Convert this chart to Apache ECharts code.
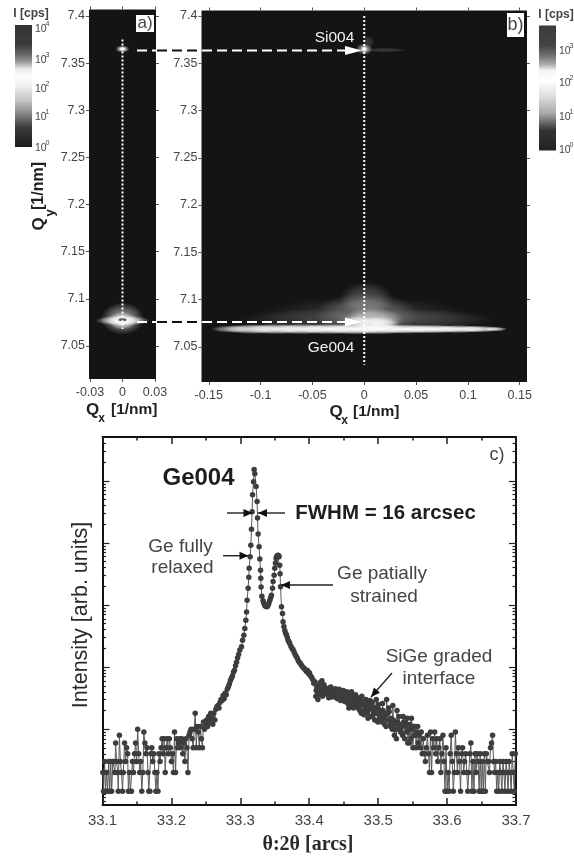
<!DOCTYPE html>
<html><head><meta charset="utf-8">
<style>html,body{margin:0;padding:0;background:#fff}#c{width:574px;height:858px}</style>
<script src="https://cdn.jsdelivr.net/npm/echarts@6/dist/echarts.min.js"></script>
</head><body><div id="c"></div>
<script>
// ---- tick values
const mapQxTicksA=[-0.03,0,0.03];
const mapQxTicksB=[-0.15,-0.1,-0.05,0,0.05,0.1,0.15];
const mapQyTicks=[7.05,7.1,7.15,7.2,7.25,7.3,7.35,7.4];
const thetaMajor=[33.1,33.2,33.3,33.4,33.5,33.6,33.7];
const thetaMinor=[33.15,33.25,33.35,33.45,33.55,33.65];
const intensityMajor=[1,10,100,1000,10000,100000];
const intensityMinor=[0.7,0.8,0.9,
 2,3,4,5,6,7,8,9,20,30,40,50,60,70,80,90,200,300,400,500,600,700,800,900,
 2000,3000,4000,5000,6000,7000,8000,9000,20000,30000,40000,50000,60000,70000,80000,90000,
 200000,300000,400000,500000];

// ---- reciprocal-space maps: [Qx, Qy, radius Qx, radius Qy, whiteness]
const mapBlobsA=[
 [0,7.365,0.0065,0.004,0.7],[0,7.365,0.0035,0.0024,1],
 [0,7.079,0.02,0.017,0.5],[0,7.077,0.025,0.0055,0.9],[0,7.077,0.013,0.0095,0.8],[0,7.0765,0.008,0.0045,0.8]];
const mapDarkSpotsA=[[0,7.0778,0.0048,0.0021,1]];
const mapBlobsB=[
 [0,7.365,0.008,0.006,0.6],[0,7.365,0.0035,0.0035,1],[0.02,7.364,0.022,0.0024,0.18],[0.004,7.373,0.006,0.006,0.16],
 [0.002,7.1,0.026,0.019,0.24],[0.002,7.085,0.05,0.022,0.28],[0.008,7.078,0.03,0.013,0.55],
 [0,7.085,0.1,0.018,0.12],[0.05,7.079,0.075,0.011,0.16],[-0.05,7.079,0.07,0.011,0.12],
 [0.012,7.075,0.022,0.007,0.9],[-0.006,7.077,0.014,0.006,0.7],
 [-0.128,7.0688,0.02,0.004,0.55],[-0.108,7.0688,0.028,0.0052,0.8],[-0.085,7.0688,0.03,0.0055,0.9],[-0.06,7.0688,0.03,0.0055,0.95],
 [-0.035,7.0688,0.03,0.0055,1],[-0.01,7.0688,0.03,0.0058,1],[0.015,7.0688,0.03,0.0056,1],[0.04,7.0688,0.03,0.005,1],
 [0.065,7.0688,0.03,0.0046,1],[0.09,7.0688,0.028,0.0042,0.95],[0.11,7.0688,0.022,0.0036,0.85],[0.126,7.0688,0.012,0.0024,0.75]];
const refLineA=[[0,7.375],[0,7.068]];
const refLineB=[[0,7.4],[0,7.031]];

// ---- theta:2theta scan [theta, intensity]
const noiseLeft=[[33.1005,2],[33.1015,1],[33.103,3],[33.1045,1],[33.106,2],[33.1075,1],[33.109,3],[33.1105,1],[33.112,3],[33.1133,1],[33.115,3],[33.1165,3],[33.118,2],[33.119,6],[33.1205,3],[33.122,2],[33.1229,1],[33.1245,8],[33.126,3],[33.1275,2],[33.129,1],[33.1302,2],[33.132,6],[33.1335,3],[33.135,5],[33.1365,4],[33.1375,1],[33.139,2],[33.1405,1],[33.142,1],[33.1435,3],[33.145,2],[33.1465,4],[33.148,6],[33.1495,3],[33.151,10],[33.1525,4],[33.154,2],[33.1555,3],[33.157,1],[33.1585,2],[33.16,9],[33.1615,6],[33.163,4],[33.1645,5],[33.166,2],[33.1672,1],[33.1688,1],[33.17,4],[33.1715,5],[33.173,3],[33.1745,4],[33.176,2],[33.1775,1],[33.179,2],[33.1805,1],[33.182,4],[33.1835,3],[33.185,5],[33.1865,7],[33.188,4],[33.1895,7],[33.191,2],[33.1925,5],[33.194,7],[33.1955,4],[33.197,7],[33.1985,5],[33.2,3],[33.2015,4],[33.203,2],[33.2045,9],[33.206,2],[33.2075,7],[33.209,5],[33.2105,6],[33.212,7],[33.2135,5],[33.215,7],[33.2165,4],[33.218,6],[33.2195,3],[33.221,7],[33.2225,5],[33.224,2]];
const riseLeft=[[33.2255,8],[33.227,9],[33.2285,10],[33.23,7],[33.2315,5],[33.233,10],[33.2345,18],[33.236,5],[33.2375,11],[33.239,9],[33.2405,5],[33.242,11],[33.2435,7],[33.245,5],[33.2465,13],[33.248,10],[33.2495,12],[33.251,14],[33.2525,11],[33.254,16],[33.2555,13],[33.257,18],[33.2585,15],[33.26,12],[33.2615,18],[33.263,14],[33.2645,21],[33.266,23],[33.2675,24],[33.269,22],[33.2705,27],[33.272,30],[33.2735,29],[33.275,35],[33.2765,31],[33.278,38],[33.2795,36],[33.281,44],[33.2825,48],[33.284,53],[33.2855,60],[33.287,66],[33.2885,72],[33.29,83],[33.2915,89],[33.293,105],[33.2945,120],[33.296,140],[33.2975,160],[33.2993,188]];
const mainPeak=[[33.3017,212],[33.3032,272],[33.3051,327],[33.3065,420],[33.308,570],[33.309,770],[33.3098,1195],[33.3113,1860],[33.3123,2800],[33.3128,3900],[33.3142,6000],[33.3152,9150],[33.3162,16700],[33.3171,32000],[33.3177,60000],[33.3191,97000],[33.32,153000],[33.321,130000],[33.3229,81000],[33.3243,46400],[33.3249,25300],[33.3258,14000],[33.3272,8700],[33.3283,5520],[33.3293,3630],[33.3297,2710],[33.3301,1960]];
const valleyPeak=[[33.3312,1390],[33.333,1170],[33.3341,1070],[33.3355,980],[33.3366,960],[33.338,940],[33.3392,950],[33.3403,994],[33.3415,1080],[33.3428,1195],[33.344,1310],[33.3452,1440],[33.3467,1860],[33.3475,2390],[33.349,3010],[33.35,3900],[33.351,4700],[33.3519,5640],[33.3526,5950],[33.3533,6160],[33.354,6280],[33.3548,6320],[33.3555,6200],[33.3562,6000],[33.3572,4360],[33.3577,3200],[33.3583,1970],[33.3597,940],[33.3612,730],[33.362,540],[33.3632,450],[33.3645,390],[33.3658,350],[33.367,330],[33.3682,300],[33.3693,272],[33.3705,255],[33.3717,240],[33.3735,215],[33.3751,200]];
const tailMid=[[33.3765,190],[33.378,175],[33.3795,160],[33.381,150],[33.3825,140],[33.384,128],[33.3855,120],[33.387,115],[33.3885,108],[33.39,102],[33.3915,98],[33.393,95],[33.3945,90],[33.396,85],[33.3975,88],[33.399,78],[33.4005,80],[33.402,72],[33.4035,68],[33.405,63],[33.4065,55],[33.408,58],[33.4095,34],[33.411,50],[33.4125,30],[33.414,47],[33.4155,56],[33.417,44],[33.4185,60],[33.42,40],[33.4215,52],[33.423,44],[33.4245,37],[33.426,42],[33.4275,36],[33.429,46],[33.4305,40],[33.432,33],[33.4335,44],[33.435,38],[33.4365,33],[33.438,45],[33.4395,36],[33.441,31],[33.4425,39],[33.444,33],[33.4455,29],[33.447,38],[33.4485,31],[33.45,35],[33.4515,28],[33.453,32],[33.4545,40],[33.456,26],[33.4575,22],[33.459,33],[33.4605,29],[33.462,24],[33.4635,35],[33.465,27],[33.4665,31],[33.468,24],[33.4695,28],[33.471,22],[33.4725,30],[33.474,26],[33.4755,18],[33.477,28],[33.4785,24],[33.48,20],[33.4815,27],[33.483,23],[33.4845,18],[33.486,26],[33.4875,21],[33.489,24],[33.4905,16],[33.492,23],[33.4935,19],[33.495,14],[33.4965,22],[33.498,18],[33.4995,13],[33.501,21],[33.5025,16],[33.504,19],[33.5055,13],[33.507,20],[33.5085,15],[33.51,17],[33.5115,11],[33.513,18],[33.5145,14],[33.516,19],[33.5175,12],[33.519,15],[33.5205,10],[33.522,14],[33.5235,8],[33.525,12],[33.5265,7],[33.528,13],[33.5295,10],[33.531,12],[33.5325,9],[33.534,11],[33.5355,8],[33.537,13],[33.5385,7],[33.54,11],[33.5415,9],[33.543,6],[33.5445,10],[33.546,12],[33.5475,7],[33.549,10],[33.5505,5],[33.552,8],[33.5535,11],[33.555,5],[33.5565,9],[33.558,6],[33.5595,8]];
const tailCloud=[[33.4101,42],[33.4132,36],[33.4162,38],[33.4192,34],[33.4223,47],[33.4253,39],[33.4283,32],[33.4313,48],[33.4343,36],[33.4373,41],[33.4403,34],[33.4433,44],[33.4463,35],[33.4493,42],[33.4523,36],[33.4553,30],[33.4583,37],[33.4613,40],[33.4643,22],[33.4673,36],[33.4703,32],[33.4733,20],[33.4763,34],[33.4793,17],[33.4823,30],[33.4853,15],[33.4883,29],[33.4913,27],[33.4943,18],[33.4973,30],[33.5003,25],[33.5033,14],[33.5063,26],[33.5093,12],[33.5123,30],[33.5153,22],[33.5183,11],[33.5213,24],[33.5243,10],[33.5273,20],[33.5303,16],[33.5333,9],[33.5363,16],[33.5393,13],[33.5423,15],[33.5453,6],[33.5483,15],[33.5513,11],[33.5543,8],[33.5573,11]];
const noiseRight=[[33.561,5],[33.5625,9],[33.564,4],[33.5655,7],[33.567,4],[33.5685,3],[33.57,5],[33.5715,8],[33.573,4],[33.5745,2],[33.576,9],[33.5775,2],[33.579,7],[33.5805,5],[33.582,9],[33.5835,4],[33.585,7],[33.5865,3],[33.588,5],[33.5895,7],[33.591,2],[33.5925,4],[33.594,8],[33.5955,3],[33.597,1],[33.5985,5],[33.6,1],[33.6015,2],[33.603,1],[33.6045,4],[33.606,8],[33.6075,3],[33.609,1],[33.6105,2],[33.612,9],[33.6135,4],[33.615,2],[33.6165,5],[33.618,3],[33.6195,1],[33.621,4],[33.6225,5],[33.624,2],[33.6255,3],[33.627,4],[33.6285,2],[33.63,1],[33.6315,2],[33.633,4],[33.6345,6],[33.636,1],[33.6375,3],[33.639,1],[33.6405,4],[33.642,2],[33.6435,4],[33.645,3],[33.6465,1],[33.648,4],[33.6495,1],[33.651,3],[33.6525,1],[33.654,4],[33.6555,1],[33.657,4],[33.6585,3],[33.66,3],[33.6615,2],[33.663,5],[33.6645,6],[33.666,8],[33.6675,3],[33.669,2],[33.6705,3],[33.672,1],[33.6735,2],[33.675,1],[33.6765,3],[33.678,2],[33.6795,1],[33.681,3],[33.6825,2],[33.684,1],[33.6855,3],[33.687,2],[33.6885,1],[33.69,3],[33.6915,2],[33.693,1],[33.6945,4],[33.696,2],[33.6975,1],[33.699,4]];
const scanPoints=[].concat(noiseLeft,riseLeft,mainPeak,valleyPeak,tailMid,tailCloud,noiseRight).sort((a,b)=>a[0]-b[0]);

// ---- colour bars: [position, grey]
const barStopsA=[[0,'#333'],[0.16,'#3c3c3c'],[0.24,'#666'],[0.3,'#999'],[0.36,'#e8e8e8'],[0.42,'#fff'],[0.5,'#eee'],[0.62,'#c4c4c4'],[0.75,'#777'],[0.84,'#3a3a3a'],[1,'#1c1c1c']];
const barStopsB=[[0,'#3a3a3a'],[0.16,'#444'],[0.25,'#777'],[0.31,'#aaa'],[0.36,'#f4f4f4'],[0.44,'#fff'],[0.56,'#e0e0e0'],[0.7,'#aaa'],[0.78,'#666'],[0.84,'#333'],[1,'#222']];

const FONT='"Liberation Sans",Arial,sans-serif';
const GREY='#444';

function blobItem(dark){
 return function(params,api){
  const c=api.coord([api.value(0),api.value(1)]);
  const s=api.size([api.value(2),api.value(3)]);
  const a=api.value(4);
  const rgb=dark?'15,15,15':'255,255,255';
  return {type:'circle',shape:{cx:0,cy:0,r:1},x:c[0],y:c[1],scaleX:s[0],scaleY:s[1],
   style:{fill:{type:'radial',x:0.5,y:0.5,r:0.5,colorStops:[
    {offset:0,color:'rgba('+rgb+','+a+')'},
    {offset:0.55,color:'rgba('+rgb+','+(a*0.7)+')'},
    {offset:1,color:'rgba('+rgb+',0)'}]}}};
 };
}
function blobSeries(data,gridAxis,dark){
 return {type:'custom',xAxisIndex:gridAxis[0],yAxisIndex:gridAxis[1],data:data,clip:true,
  encode:{x:0,y:1},renderItem:blobItem(dark),silent:true,animation:false};
}
function dotted(data,gridAxis){
 return {type:'line',xAxisIndex:gridAxis[0],yAxisIndex:gridAxis[1],data:data,symbol:'none',silent:true,
  lineStyle:{color:'#fff',width:2,type:[2,2]},animation:false};
}

function mapX(grid,pos,min,max,ticks,labels){
 return {type:'value',gridIndex:grid,position:pos,min:min,max:max,
  axisLine:{show:false,onZero:false},splitLine:{show:false},
  axisTick:{show:true,customValues:ticks,length:3,inside:false,lineStyle:{color:'#555',width:1}},
  axisLabel:labels?{show:true,customValues:ticks,color:GREY,fontFamily:FONT,fontSize:12.5,margin:7}:{show:false}};
}
function mapY(grid,pos,min,max,labels){
 return {type:'value',gridIndex:grid,position:pos,min:min,max:max,
  axisLine:{show:false,onZero:false},splitLine:{show:false},
  axisTick:{show:true,customValues:mapQyTicks,length:3,inside:false,lineStyle:{color:'#555',width:1}},
  axisLabel:labels?{show:true,customValues:mapQyTicks,color:GREY,fontFamily:FONT,fontSize:12.5,margin:4}:{show:false}};
}
function scanX(pos,ticks,len,labels,line){
 return {type:'value',gridIndex:2,position:pos,min:33.1,max:33.7,
  axisLine:{show:line,onZero:false,lineStyle:{color:'#111',width:2}},splitLine:{show:false},
  axisTick:{show:true,customValues:ticks,inside:true,length:len,lineStyle:{color:'#222',width:1.5}},
  axisLabel:labels?{show:true,customValues:ticks,color:GREY,fontFamily:FONT,fontSize:15,margin:8}:{show:false}};
}
function scanY(pos,ticks,len,line){
 return {type:'log',gridIndex:2,position:pos,min:0.6,max:510000,
  axisLine:{show:line,onZero:false,lineStyle:{color:'#111',width:2}},splitLine:{show:false},
  axisTick:{show:true,customValues:ticks,inside:true,length:len,lineStyle:{color:'#222',width:1.2}},
  axisLabel:{show:false}};
}

// annotation helpers
const gfx=[];
function T(x,y,text,size,o){
 o=o||{};
 gfx.push({type:'text',x:x,y:y,rotation:o.rot||0,z:50,silent:true,style:{text:text,fill:o.fill||GREY,
  font:(o.bold?'bold ':'')+size+'px '+(o.serif?'"Liberation Serif",serif':FONT),
  align:o.align||'center',verticalAlign:'middle'}});
}
function L(x1,y1,x2,y2,color,w,dash){
 gfx.push({type:'line',z:45,silent:true,shape:{x1,y1,x2,y2},style:{stroke:color,lineWidth:w,lineDash:dash||null}});
}
function head(x1,y1,x2,y2,color,len,hw){
 const d=Math.hypot(x2-x1,y2-y1),ux=(x2-x1)/d,uy=(y2-y1)/d;
 const bx=x2-ux*len,by=y2-uy*len;
 gfx.push({type:'polygon',z:46,silent:true,shape:{points:[[x2,y2],[bx-uy*hw,by+ux*hw],[bx+uy*hw,by-ux*hw]]},style:{fill:color}});
}
function arrow(x1,y1,x2,y2){L(x1,y1,x2,y2,'#222',1.4);head(x1,y1,x2,y2,'#111',9,4);}
function bar(x,y,w,h,stops){
 gfx.push({type:'rect',z:40,silent:true,shape:{x,y,width:w,height:h},style:{fill:{type:'linear',x:0,y:0,x2:0,y2:1,
  colorStops:stops.map(s=>({offset:s[0],color:s[1]}))}}});
}
function pow10(x,y,e){T(x,y,'10',10.5,{align:'left'});T(x+10.5,y-5,String(e),7,{align:'left'});}

bar(15,25,17,122,barStopsA);
bar(539,25.5,17,125,barStopsB);
T(31,14,'I [cps]',12,{bold:true});
T(556,15,'I [cps]',12,{bold:true});
[[29,4],[60,3],[89,2],[117,1],[148,0]].forEach(p=>pow10(35,p[0],p[1]));
[[51,3],[83,2],[117,1],[150,0]].forEach(p=>pow10(559,p[0],p[1]));

gfx.push({type:'rect',z:41,silent:true,shape:{x:136,y:15,width:18,height:17},style:{fill:'#fff'}});
gfx.push({type:'rect',z:41,silent:true,shape:{x:507,y:13,width:17,height:24},style:{fill:'#fff'}});
T(145,23.5,'a)',17);T(515.5,25,'b)',18);
T(334.5,38,'Si004',15.5,{fill:'#f2f2f2'});
T(331,348,'Ge004',15.5,{fill:'#f2f2f2'});

// reflection-to-reflection arrows
[50.5,322].forEach(y=>{
 L(137,y,156,y,'#fff',2,[10,5]);
 L(157,y,201,y,'#111',2,[10,5]);
 L(202,y,348,y,'#fff',2,[10,5]);
 head(345,y,362,y,'#fff',17,4.5);
});

// axis titles
T(92.5,410,'Q',17,{bold:true,fill:'#222'});
T(101.5,419,'x',12,{bold:true,fill:'#222'});
T(111,410,'[1/nm]',15.5,{bold:true,fill:'#222',align:'left'});
T(336,412,'Q',17,{bold:true,fill:'#222'});
T(344.5,421,'x',12,{bold:true,fill:'#222'});
T(353,412,'[1/nm]',15.5,{bold:true,fill:'#222',align:'left'});
T(39,224,'Q',17,{bold:true,fill:'#222',rot:Math.PI/2});
T(50,213,'y',13,{bold:true,fill:'#222',rot:Math.PI/2});
T(39,186,'[1/nm]',16,{bold:true,fill:'#222',rot:Math.PI/2});
T(81,615,'Intensity [arb. units]',21.5,{rot:Math.PI/2,fill:'#2a2a2a'});
T(308,845,'θ:2θ [arcs]',20,{bold:true,serif:true,fill:'#2a2a2a'});

// scan annotations
T(198.5,478,'Ge004',24,{bold:true,fill:'#1e1e1e'});
T(385.5,513,'FWHM = 16 arcsec',20.5,{bold:true,fill:'#1e1e1e'});
T(180.5,547,'Ge fully',19);T(182.5,568,'relaxed',19);
T(382,574,'Ge patially',19);T(384,597,'strained',19);
T(439,657,'SiGe graded',19);T(439,679,'interface',19);
T(497,455,'c)',18);
arrow(227,513,252.5,513);arrow(285,513,258,513);
arrow(223,555.7,248.5,555.7);arrow(333,585,281,585);
arrow(392,673,371,697);

const chart=echarts.init(document.getElementById('c'),null,{renderer:'canvas'});
chart.setOption({
 animation:false,backgroundColor:'#fff',
 grid:[
  {left:89,top:9.5,width:67,height:369.5,show:true,backgroundColor:'#141414',borderWidth:0},
  {left:201.5,top:10.5,width:325.5,height:371.5,show:true,backgroundColor:'#141414',borderWidth:0},
  {left:102.5,top:437,width:413.5,height:368,show:false}],
 xAxis:[
  mapX(0,'bottom',-0.0309,0.0309,mapQxTicksA,true),
  mapX(0,'top',-0.0309,0.0309,mapQxTicksA,false),
  mapX(1,'bottom',-0.157,0.157,mapQxTicksB,true),
  mapX(1,'top',-0.157,0.157,mapQxTicksB,false),
  scanX('bottom',thetaMajor,7,true,true),
  scanX('bottom',thetaMinor,3.5,false,false),
  scanX('top',thetaMajor,7,false,true),
  scanX('top',thetaMinor,3.5,false,false)],
 yAxis:[
  mapY(0,'left',7.015,7.4069,true),
  mapY(0,'right',7.015,7.4069,false),
  mapY(1,'left',7.0128,7.4058,true),
  mapY(1,'right',7.0128,7.4058,false),
  scanY('left',intensityMajor,7,true),
  scanY('left',intensityMinor,3.5,false),
  scanY('right',intensityMajor,7,true),
  scanY('right',intensityMinor,3.5,false)],
 series:[
  blobSeries(mapBlobsA,[0,0],false),
  blobSeries(mapDarkSpotsA,[0,0],true),
  dotted(refLineA,[0,0]),
  blobSeries(mapBlobsB,[2,2],false),
  dotted(refLineB,[2,2]),
  {type:'line',xAxisIndex:4,yAxisIndex:4,data:scanPoints,symbol:'circle',symbolSize:5.5,showSymbol:true,showAllSymbol:true,
   clip:true,silent:true,lineStyle:{color:'#5a5a5a',width:1},itemStyle:{color:'#3d3d3d'},animation:false}
 ],
 graphic:{elements:gfx}
});
</script></body></html>
